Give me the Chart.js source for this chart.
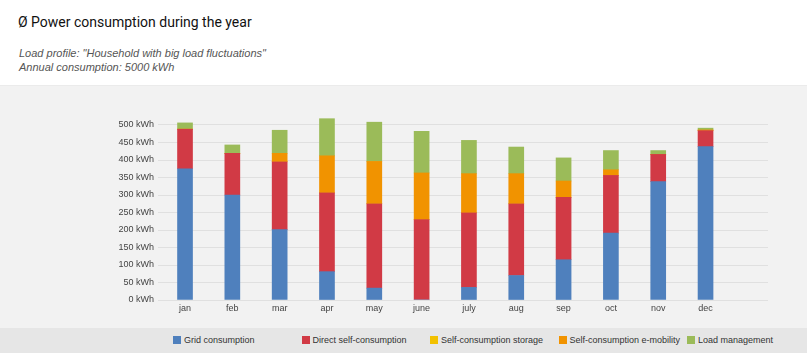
<!DOCTYPE html>
<html>
<head>
<meta charset="utf-8">
<script src="https://cdn.jsdelivr.net/npm/chart.js@4/dist/chart.umd.min.js"></script>
<style>
  body { margin: 0; width: 809px; height: 353px; background: #fff; overflow: hidden; position: relative; }
  h1 { position: absolute; left: 18px; top: 14px; margin: 0; font: 400 14px Roboto, sans-serif; color: #111; }
  .sub { position: absolute; left: 19px; top: 46px; font: italic 11px "Liberation Sans", Arial, sans-serif; color: #555; line-height: 14px; }
  #panel { position: absolute; left: 0; top: 85px; width: 807px; height: 243px; background: #f2f2f2; border-top: 1px solid #ebebeb; box-sizing: border-box; }
  #wrap { position: absolute; left: 0; top: 85px; width: 809px; height: 243px; }
  #legend { position: absolute; left: 0; top: 328px; width: 807px; height: 25px; background: #e6e6e6; }
  #legend .item { position: absolute; top: 8px; font: 9px "Liberation Sans", Arial, sans-serif; color: #333; white-space: nowrap; line-height: 9px; }
  #legend .box { display: inline-block; width: 8px; height: 8px; margin-right: 3px; vertical-align: -1px; }
</style>
</head>
<body>
<h1>Ø Power consumption during the year</h1>
<div class="sub">Load profile: "Household with big load fluctuations"<br>Annual consumption: 5000 kWh</div>
<div id="panel"></div>
<div id="wrap"><canvas id="chart" width="809" height="243"></canvas></div>
<div id="legend"></div>
<script>
const months = ["jan", "feb", "mar", "apr", "may", "june", "july", "aug", "sep", "oct", "nov", "dec"];

const gridConsumption = [375, 300, 201, 81, 34, 0, 36, 70, 115, 191, 338, 438];
const directSelf = [113, 119, 194, 225, 241, 230, 213, 205, 178, 165, 78, 46];
const selfStorage = [0, 0, 0, 0, 0, 0, 0, 0, 0, 0, 0, 0];
const selfEmobility = [0, 0, 24, 106, 121, 133, 112, 86, 47, 16, 0, 2];
const loadManagement = [18, 24, 66, 106, 112, 119, 95, 76, 66, 55, 11, 5];

const yTicks = [0, 50, 100, 150, 200, 250, 300, 350, 400, 450, 500];

const series = [
  { label: "Grid consumption", data: gridConsumption, color: "#4f80bd" },
  { label: "Direct self-consumption", data: directSelf, color: "#d13a45" },
  { label: "Self-consumption storage", data: selfStorage, color: "#f2c100" },
  { label: "Self-consumption e-mobility", data: selfEmobility, color: "#f19300" },
  { label: "Load management", data: loadManagement, color: "#9bbb59" }
];

const ctx = document.getElementById("chart");

const chart = new Chart(ctx, {
  type: "bar",
  data: {
    datasets: series.map(s => ({
      label: s.label,
      data: s.data.map((v, i) => ({ x: i, y: v })),
      backgroundColor: s.color,
      borderWidth: 0,
      barThickness: 15
    }))
  },
  options: {
    responsive: false,
    animation: false,
    layout: { padding: { top: 33, right: 41, left: 0, bottom: 0 } },
    plugins: { legend: { display: false }, tooltip: { enabled: false } },
    scales: {
      x: {
        type: "linear",
        stacked: true,
        offset: false,
        min: -0.571,
        max: 12.32,
        grid: { display: false, drawTicks: false },
        border: { display: false },
        afterBuildTicks: axis => { axis.ticks = months.map((m, i) => ({ value: i })); },
        afterFit: axis => { axis.height = 28; },
        ticks: {
          padding: 3,
          color: "#444",
          font: { family: "Liberation Sans, Arial", size: 9 },
          maxRotation: 0,
          autoSkip: false,
          callback: v => months[v]
        }
      },
      y: {
        stacked: true,
        min: 0,
        max: 520,
        grid: { color: "#e0e0e0", drawTicks: false },
        border: { display: false },
        afterBuildTicks: axis => { axis.ticks = yTicks.map(v => ({ value: v })); },
        afterFit: axis => { axis.width = 158; },
        ticks: {
          padding: 4,
          color: "#444",
          font: { family: "Liberation Sans, Arial", size: 9 },
          callback: v => v + " kWh"
        }
      }
    }
  }
});

// legend underneath, fixed columns like the original
const legendEl = document.getElementById("legend");
chart.data.datasets.forEach((ds, i) => {
  const item = document.createElement("div");
  item.className = "item";
  item.style.left = (173 + i * 128.5) + "px";
  item.innerHTML = '<span class="box" style="background:' + ds.backgroundColor + '"></span>' + ds.label;
  legendEl.appendChild(item);
});
</script>
</body>
</html>
